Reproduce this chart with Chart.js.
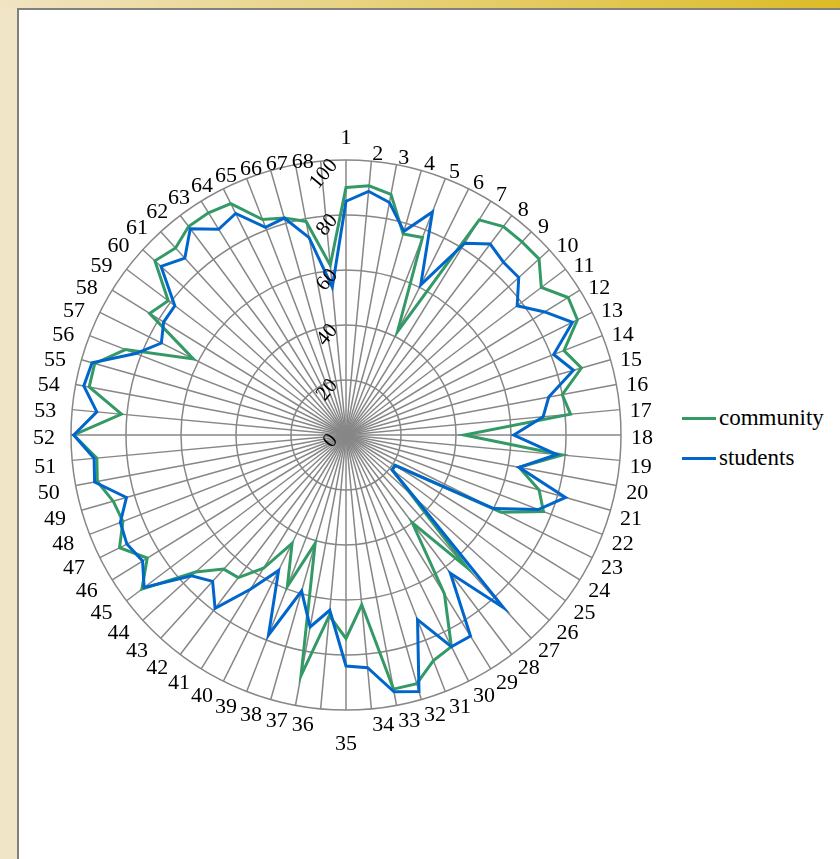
<!DOCTYPE html>
<html>
<head>
<meta charset="utf-8">
<script src="https://cdn.jsdelivr.net/npm/chart.js@4.4.1/dist/chart.umd.min.js"></script>
<style>
	html, body { margin: 0; padding: 0; }
	body { width: 840px; height: 859px; position: relative; overflow: hidden; background: #f0e5c6; font-family: "Liberation Serif", serif; }
	#topbar { position: absolute; left: 0; top: 0; width: 840px; height: 8px; background: linear-gradient(to right, #f0e4c2, #dcbc26); }
	#panel { position: absolute; left: 17px; top: 8px; right: 0; bottom: 0; background: #fff; border-left: 2px solid #808080; border-top: 2px solid #808080; }
	#wrap { position: absolute; left: 26px; top: 115px; width: 640px; height: 640px; }
	.lg { position: absolute; left: 682px; font-size: 23px; color: #000; line-height: 24px; white-space: nowrap; }
	.lg span { display: inline-block; width: 34px; height: 3px; vertical-align: middle; margin-right: 3px; position: relative; top: -1px; }
</style>
</head>
<body>
<div id="topbar"></div>
<div id="panel"></div>
<div id="wrap"><canvas id="chart"></canvas></div>
<div class="lg" style="top:406px"><span style="background:#339966"></span>community</div>
<div class="lg" style="top:446px"><span style="background:#0066cc"></span>students</div>
<script>
// categories 1..68
const categories = ['1','2','3','4','5','6','7','8','9','10','11','12','13','14','15','16','17','18','19','20',
	'21','22','23','24','25','26','27','28','29','30','31','32','33','34','35','36','37','38','39','40',
	'41','42','43','44','45','46','47','48','49','50','51','52','53','54','55','56','57','58','59','60',
	'61','62','63','64','65','66','67','68'];

const community = [90, 91, 89, 76, 77, 42, 92, 95, 95, 95, 89, 95, 94, 85, 89, 80, 82, 43, 79, 64,
	73, 77, 63, 21, 21, 32, 65, 40, 68, 86, 88, 94, 94, 62, 74, 66, 89, 41, 59, 44,
	57, 65, 66, 74, 93, 85, 92, 87, 88, 92, 91, 99, 82, 95, 95, 86, 62, 84, 81, 94,
	92, 95, 95, 94, 84, 82, 79, 62];

const students = [85, 89, 86, 77, 87, 61, 82, 87, 85, 85, 78, 85, 92, 81, 86, 75, 72, 61, 77, 64,
	83, 75, 60, 21, 21, 34, 85, 63, 86, 86, 72, 97, 95, 85, 84, 64, 71, 59, 78, 55,
	66, 79, 72, 76, 92, 87, 89, 88, 83, 93, 92, 99, 91, 97, 96, 82, 75, 78, 78, 91,
	87, 94, 88, 90, 81, 82, 73, 54];

const tickValues = [0, 20, 40, 60, 80, 100];

// category labels placed like Excel does: middle aligned beside the ring,
// top and bottom ones pushed out a bit more
const categoryLabels = {
	id: 'categoryLabels',
	afterDraw(chart) {
		const scale = chart.scales.r;
		const ctx = chart.ctx;
		const n = chart.data.labels.length;
		ctx.save();
		ctx.font = '22px "Liberation Serif"';
		ctx.fillStyle = '#000';
		chart.data.labels.forEach((label, i) => {
			const a = i * 360 / n;
			const p = scale.getPointPosition(i, scale.drawingArea + 10);
			let x = p.x;
			let y = p.y + 3;
			if (a === 0) {
				ctx.textAlign = 'center';
				ctx.textBaseline = 'bottom';
				y = p.y - 1;
			} else if (a === 180) {
				ctx.textAlign = 'center';
				ctx.textBaseline = 'top';
				y = p.y + 13;
			} else {
				ctx.textAlign = a < 180 ? 'left' : 'right';
				ctx.textBaseline = 'middle';
				if (a > 90 && a < 270) y += 3;
				if (a > 180) x -= 6;
				if (a > 300) y += 8 * Math.pow((a - 300) / 55, 2);
			}
			ctx.fillText(label, x, y);
		});
		ctx.restore();
	}
};

// radial tick labels are drawn rotated, like in the original
const rotatedTicks = {
	id: 'rotatedTicks',
	afterDatasetsDraw(chart) {
		const scale = chart.scales.r;
		const ctx = chart.ctx;
		ctx.save();
		ctx.font = '21px "Liberation Serif"';
		ctx.fillStyle = '#000';
		ctx.textAlign = 'right';
		ctx.textBaseline = 'middle';
		scale.ticks.forEach(t => {
			const y = scale.yCenter - scale.getDistanceFromCenterForValue(t.value);
			ctx.save();
			ctx.translate(scale.xCenter - 12, y + 2);
			ctx.rotate(-50 * Math.PI / 180);
			ctx.fillText(t.label, 0, 0);
			ctx.restore();
		});
		ctx.restore();
	}
};

new Chart(document.getElementById('chart'), {
	type: 'radar',
	data: {
		labels: categories,
		datasets: [
			{ label: 'community', data: community, borderColor: '#339966', borderWidth: 3, fill: false, pointRadius: 0, tension: 0, order: 2 },
			{ label: 'students', data: students, borderColor: '#0066cc', borderWidth: 3, fill: false, pointRadius: 0, tension: 0, order: 1 }
		]
	},
	options: {
		responsive: true,
		maintainAspectRatio: false,
		animation: false,
		layout: { padding: 45 },
		plugins: {
			legend: { display: false },
			tooltip: { enabled: false }
		},
		scales: {
			r: {
				min: tickValues[0],
				max: tickValues[tickValues.length - 1],
				ticks: { stepSize: 20, display: false },
				grid: { circular: true, color: '#878787', lineWidth: 1.5 },
				angleLines: { color: '#878787', lineWidth: 1.5 },
				pointLabels: { display: false }
			}
		}
	},
	plugins: [rotatedTicks, categoryLabels]
});
</script>
</body>
</html>
